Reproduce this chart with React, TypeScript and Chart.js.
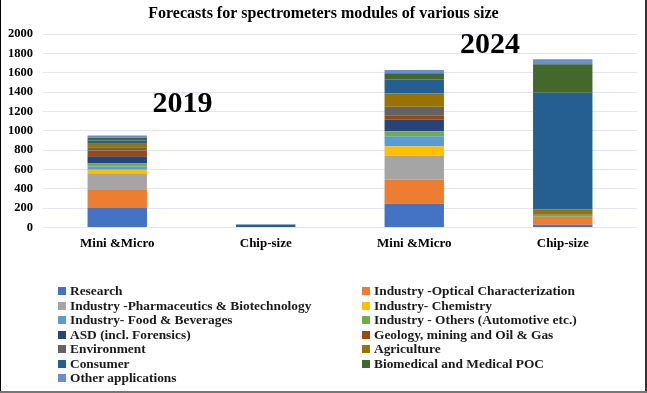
import React, { useEffect, useRef } from 'react';
import { Chart, registerables } from 'chart.js';

Chart.register(...registerables);

const SERIF = '"Liberation Serif", "Times New Roman", serif';

const titleText = 'Forecasts for spectrometers modules of various size';
const categories = ['Mini &Micro', 'Chip-size', 'Mini &Micro', 'Chip-size'];
const yTicks = [0, 200, 400, 600, 800, 1000, 1200, 1400, 1600, 1800, 2000];

const seriesNames = [
  'Research',
  'Industry -Optical Characterization',
  'Industry -Pharmaceutics & Biotechnology',
  'Industry- Chemistry',
  'Industry- Food & Beverages',
  'Industry - Others (Automotive etc.)',
  'ASD (incl. Forensics)',
  'Geology, mining and Oil & Gas',
  'Environment',
  'Agriculture',
  'Consumer',
  'Biomedical and Medical POC',
  'Other applications',
];

const seriesColors = [
  '#4472C4', '#ED7D31', '#A5A5A5', '#FFC000', '#5B9BD5', '#70AD47',
  '#264478', '#9E480E', '#636363', '#997300', '#255E91', '#43682B', '#698ED0',
];

// values per category: [2019 Mini&Micro, 2019 Chip-size, 2024 Mini&Micro, 2024 Chip-size]
const research = [200, 0, 245, 28];
const opticalCharacterization = [188, 0, 251, 83];
const pharmaBiotech = [166, 0, 249, 0];
const chemistry = [42, 0, 94, 0];
const foodBeverages = [34, 0, 104, 0];
const industryOthers = [31, 0, 52, 20];
const asdForensics = [76, 0, 121, 0];
const geologyMining = [59, 0, 45, 0];
const environment = [35, 0, 87, 8];
const agriculture = [35, 0, 139, 48];
const consumer = [34, 30, 145, 1206];
const biomedical = [28, 0, 63, 295];
const otherApplications = [24, 0, 34, 52];

const seriesValues = [
  research, opticalCharacterization, pharmaBiotech, chemistry, foodBeverages,
  industryOthers, asdForensics, geologyMining, environment, agriculture,
  consumer, biomedical, otherApplications,
];

const yearLabels = [
  { text: '2019', at: 0.44, value: 1270 },
  { text: '2024', at: 2.51, value: 1890 },
];

const yearPlugin = {
  id: 'yearLabels',
  afterDatasetsDraw(chart: any) {
    const { ctx, scales } = chart;
    ctx.save();
    ctx.font = `bold 30px ${SERIF}`;
    ctx.fillStyle = '#000';
    ctx.textAlign = 'center';
    ctx.textBaseline = 'middle';
    yearLabels.forEach((l) => {
      ctx.fillText(l.text, scales.x.getPixelForValue(l.at), scales.y.getPixelForValue(l.value));
    });
    ctx.restore();
  },
};

export default function App() {
  const canvasRef = useRef<HTMLCanvasElement | null>(null);

  useEffect(() => {
    if (!canvasRef.current) return;
    const chart = new Chart(canvasRef.current, {
      type: 'bar',
      data: {
        labels: categories,
        datasets: seriesNames.map((name, i) => ({
          label: name,
          data: seriesValues[i],
          backgroundColor: seriesColors[i],
          borderWidth: 0,
          categoryPercentage: 1,
          barPercentage: 0.4,
        })),
      },
      options: {
        responsive: false,
        animation: false,
        layout: { padding: { left: 0, right: 0, top: 0, bottom: 134 } },
        plugins: {
          legend: { display: false },
          tooltip: { enabled: false },
          title: {
            display: true,
            text: titleText,
            color: '#000',
            font: { family: SERIF, size: 16, weight: 'bold' },
            padding: { top: 4, bottom: 11 },
          },
        },
        scales: {
          x: {
            stacked: true,
            grid: { display: false, drawTicks: false },
            border: { display: false },
            ticks: {
              color: '#000',
              padding: 8,
              font: { family: SERIF, size: 13, weight: 'bold' },
            },
          },
          y: {
            stacked: true,
            min: 0,
            max: 2000,
            afterFit(scale: any) { scale.width = 43; },
            afterBuildTicks(scale: any) { scale.ticks = yTicks.map((v) => ({ value: v })); },
            grid: { color: '#e3e6ee', lineWidth: 1, drawTicks: false },
            border: { display: false },
            ticks: {
              color: '#000',
              padding: 10,
              font: { family: SERIF, size: 12.5, weight: 'bold' },
              callback: (v: any) => String(v),
            },
          },
          yRight: {
            position: 'right',
            min: 0,
            max: 2000,
            afterFit(scale: any) { scale.width = 10; },
            grid: { display: false, drawTicks: false },
            border: { display: false },
            ticks: { display: false },
          },
        },
      },
      plugins: [yearPlugin],
    });
    return () => chart.destroy();
  }, []);

  return (
    <div style={{ position: 'absolute', left: 0, top: 0, width: 647, height: 393, background: '#fff', overflow: 'hidden' }}>
      <canvas ref={canvasRef} width={647} height={393} style={{ position: 'absolute', left: 0, top: 0 }} />
      {seriesNames.map((name, i) => {
        const col = i % 2;
        const row = Math.floor(i / 2);
        return (
          <div
            key={name}
            style={{
              position: 'absolute',
              left: col === 0 ? 58 : 362,
              top: 283.5 + row * 14.5,
              height: 15,
              display: 'flex',
              alignItems: 'center',
              whiteSpace: 'nowrap',
              fontFamily: SERIF,
              fontWeight: 'bold',
              fontSize: 13.4,
              color: '#1a1a1a',
            }}
          >
            <span style={{ display: 'inline-block', width: 8, height: 8, background: seriesColors[i], marginRight: 4 }} />
            <span>{name}</span>
          </div>
        );
      })}
      <div style={{ position: 'absolute', left: 0, top: 0, width: 1, height: 393, background: '#000' }} />
      <div style={{ position: 'absolute', left: 645, top: 0, width: 2, height: 393, background: '#333' }} />
      <div style={{ position: 'absolute', left: 0, top: 391, width: 647, height: 2, background: '#777' }} />
    </div>
  );
}
